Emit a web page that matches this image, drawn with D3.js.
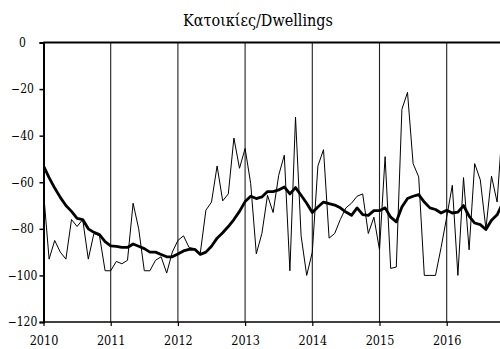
<!DOCTYPE html>
<html>
<head>
<meta charset="utf-8">
<script src="https://cdn.jsdelivr.net/npm/d3@7"></script>
<style>
  html, body { margin: 0; padding: 0; background: #fff; }
  svg { display: block; }
</style>
</head>
<body>
<svg id="chart" width="500" height="349"></svg>
<script>
// Monthly balance, Jan 2010 – Nov 2016
const startYear = 2010;
const monthly = [
  -64, -93, -85, -90, -93, -76, -79, -76, -93, -82, -83, -98,      // 2010
  -98, -94, -95, -93.5, -69, -80, -98, -98, -93.5, -92, -99, -90,  // 2011
  -85, -83, -88, -88.5, -90.4, -72, -68.5, -53, -68, -65, -41, -54, // 2012
  -45.5, -60.6, -90.7, -82, -65.6, -73, -57, -48.4, -98, -32, -83, -100, // 2013
  -90, -53, -46, -84, -82, -76, -71, -69, -66, -65, -82, -75,     // 2014
  -89, -49, -97, -96.4, -28.7, -21.4, -52, -57.7, -100, -100, -100, -88, // 2015
  -75, -61.3, -100, -58, -89, -52, -59, -80, -57.4, -68.5, -34    // 2016
];
// Twelve-month moving average
const trend = [
  -53, -58, -62.5, -66.5, -70, -72.5, -75.5, -76, -80, -81.5, -82.5, -85.5, // 2010
  -87.3, -87.5, -88, -88, -86.5, -87.5, -88.5, -90, -90, -91, -92, -92,     // 2011
  -90.8, -89.5, -88.8, -88.8, -91, -90, -87.5, -84, -81.7, -79, -76, -72.5, // 2012
  -68.3, -66, -67, -66.3, -64, -64, -63.3, -62, -65, -62.3, -65.6, -69,     // 2013
  -73, -70.6, -68.5, -69.2, -69.8, -71, -72.8, -74.2, -71, -73.9, -74.2, -72.2, // 2014
  -72.2, -71, -75, -77, -70.6, -67, -66, -65.3, -68.5, -71, -71.7, -73.2,   // 2015
  -72, -73.2, -72.8, -70, -74.5, -77.5, -78.2, -80.3, -76.3, -74, -69      // 2016
];
const yearTicks = [2010, 2011, 2012, 2013, 2014, 2015, 2016];
const valueTicks = [0, -20, -40, -60, -80, -100, -120];
const title = "Κατοικίες/Dwellings";

const FONT = "'DejaVu Serif Condensed', 'DejaVu Serif', serif";

const svg = d3.select("#chart");
const W = 500;
const margin = { top: 42.5, left: 43.5, bottom: 322 };

// time as fractional years; one year spans ~67.2px
const x = d3.scaleLinear().domain([2010, 2017]).range([margin.left, margin.left + 7 * 67.2]);
const y = d3.scaleLinear().domain([-120, 0]).range([margin.bottom, margin.top]);
const t = i => startYear + i / 12;

// vertical year lines
svg.append("g")
  .selectAll("line")
  .data(yearTicks.slice(1))
  .join("line")
  .attr("x1", d => x(d)).attr("x2", d => x(d))
  .attr("y1", y(0)).attr("y2", y(-120))
  .attr("stroke", "#222").attr("stroke-width", 1.1);

// clip for plot area
svg.append("clipPath").attr("id", "plot")
  .append("rect")
  .attr("x", margin.left).attr("y", y(0) - 2)
  .attr("width", W - margin.left).attr("height", y(-120) - y(0) + 4);

const line = arr => d3.line()
  .x((d, i) => x(t(i)))
  .y(d => y(d))(arr);

const plot = svg.append("g").attr("clip-path", "url(#plot)");
plot.append("path")
  .attr("d", line(monthly))
  .attr("fill", "none").attr("stroke", "#000").attr("stroke-width", 1)
  .attr("stroke-linejoin", "miter");
plot.append("path")
  .attr("d", line(trend))
  .attr("fill", "none").attr("stroke", "#000").attr("stroke-width", 2.8)
  .attr("stroke-linejoin", "round");

// top border
svg.append("line")
  .attr("x1", margin.left).attr("x2", W)
  .attr("y1", y(0)).attr("y2", y(0))
  .attr("stroke", "#000").attr("stroke-width", 2);

// y axis (labels centred in the left margin)
const yAxis = svg.append("g")
  .attr("transform", `translate(${margin.left},0)`)
  .call(d3.axisLeft(y).tickValues(valueTicks).tickSize(4)
    .tickFormat(d3.format("d")));
yAxis.attr("font-family", FONT).attr("font-size", 12);
yAxis.selectAll(".tick text").attr("x", -21).attr("text-anchor", "middle");
yAxis.select(".domain").attr("stroke-width", 2);
yAxis.selectAll(".tick line").attr("stroke-width", 1.5);

// x axis
const xAxis = svg.append("g")
  .attr("transform", `translate(0,${margin.bottom})`)
  .call(d3.axisBottom(x).tickValues(yearTicks).tickSize(4).tickPadding(10)
    .tickFormat(d3.format("d")));
xAxis.attr("font-family", FONT).attr("font-size", 12.5);
xAxis.select(".domain").attr("d", `M${margin.left},0H${W}`).attr("stroke-width", 1.5);
xAxis.selectAll(".tick line").attr("stroke-width", 1.2);

// title
svg.append("text")
  .attr("x", 258).attr("y", 25.5)
  .attr("text-anchor", "middle")
  .attr("font-family", FONT)
  .attr("font-size", 16)
  .text(title);
</script>
</body>
</html>
